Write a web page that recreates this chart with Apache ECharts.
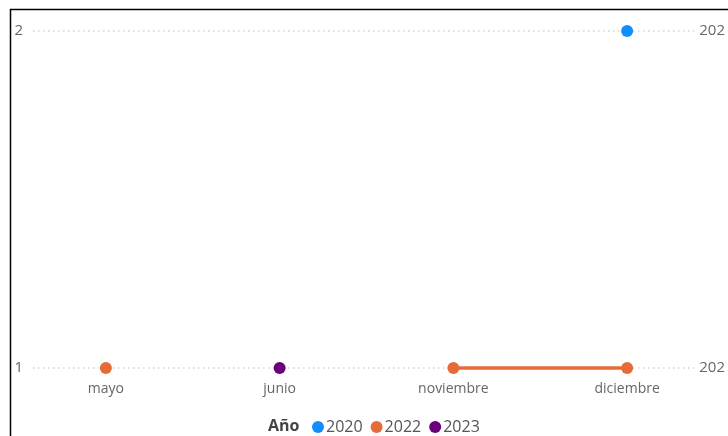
<!DOCTYPE html>
<html><head><meta charset="utf-8">
<script src="https://cdn.jsdelivr.net/npm/echarts@6/dist/echarts.min.js"></script>
<style>html,body{margin:0;padding:0;background:#fff}#c{width:728px;height:436px}</style>
</head><body><div id="c"></div>
<script>
const categories = ['mayo', 'junio', 'noviembre', 'diciembre'];
const s2020 = [null, null, null, 2];
const s2022 = [1, null, 1, 1];
const s2023 = [null, 1, null, null];
const seriesNames = ['2020', '2022', '2023'];
const seriesColors = ['#118DFF', '#E66C37', '#6B007B'];
const rightTickLabels = { 1: '202', 2: '202' };
const legendTitle = 'Año';

const chart = echarts.init(document.getElementById('c'), null, { renderer: 'canvas' });
const font = '"Open Sans", "Noto Sans", sans-serif';
const mk = (name, data, color) => ({
  name, type: 'line', data, xAxisIndex: 0, yAxisIndex: 0,
  connectNulls: false, symbol: 'circle', symbolSize: 12, showSymbol: true,
  clip: false, itemStyle: { color }, lineStyle: { color, width: 3.5 },
  emphasis: { disabled: true }
});
chart.setOption({
  animation: false,
  textStyle: { fontFamily: font },
  graphic: [{ type: 'rect', shape: { x: 10.5, y: 9.5, width: 800, height: 500 },
    style: { fill: 'none', stroke: '#000', lineWidth: 1.5 }, silent: true, z: -1 }],
  title: { text: legendTitle, left: 263, top: 413,
    textStyle: { fontFamily: font, fontSize: 16, fontWeight: 'bold', color: '#444' } },
  legend: { data: seriesNames, left: 312, top: 419, padding: 0, icon: 'circle', itemWidth: 12, itemHeight: 12,
    itemGap: 8, textStyle: { fontFamily: font, fontSize: 16, color: '#555', padding: [0, 0, 0, -3] } },
  grid: [
    { left: 19, right: 14, top: 31, bottom: 68 },
    { left: 33, right: 33, top: 31, bottom: 68 }
  ],
  xAxis: [
    { type: 'category', gridIndex: 0, data: categories, boundaryGap: true,
      axisLine: { show: false }, axisTick: { show: false },
      axisLabel: { color: '#666', fontSize: 14, margin: 14, fontFamily: font } },
    { type: 'value', gridIndex: 1, show: false, min: 0, max: 1 }
  ],
  yAxis: [
    { type: 'value', gridIndex: 0, min: 1, max: 2, interval: 1, show: false },
    { type: 'value', gridIndex: 1, min: 1, max: 2, interval: 1, position: 'left',
      axisLine: { show: false }, axisTick: { show: false },
      axisLabel: { color: '#666', fontSize: 15, margin: 10, fontFamily: font },
      splitLine: { show: true, lineStyle: { color: '#d4d4d4', type: [1.5, 3.5], width: 1.5 } } },
    { type: 'value', gridIndex: 1, min: 1, max: 2, interval: 1, position: 'right',
      axisLine: { show: false }, axisTick: { show: false }, splitLine: { show: false },
      axisLabel: { color: '#666', fontSize: 15, margin: 5, fontFamily: font,
        formatter: v => rightTickLabels[v] || '' } }
  ],
  series: [mk(seriesNames[0], s2020, seriesColors[0]), mk(seriesNames[1], s2022, seriesColors[1]), mk(seriesNames[2], s2023, seriesColors[2])]
});
</script></body></html>
